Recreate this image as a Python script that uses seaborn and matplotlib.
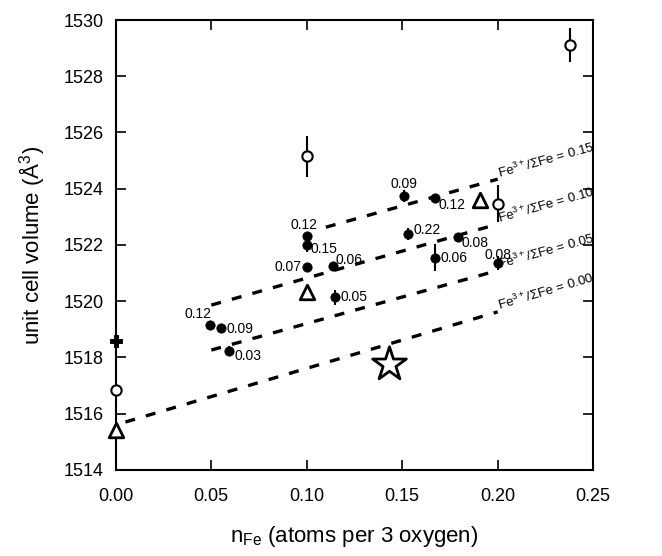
import numpy as np
import pandas as pd
import matplotlib
matplotlib.use("Agg")
import matplotlib.pyplot as plt
import seaborn as sns

# ---- data ----
# filled circles (samples) with labels and error bars
fill_x = [0.0494, 0.0552, 0.0592, 0.100, 0.100, 0.100, 0.1138, 0.115, 0.151, 0.153, 0.167, 0.167, 0.179, 0.200]
fill_y = [1519.15, 1519.05, 1518.24, 1521.22, 1522.30, 1522.00, 1521.25, 1520.13, 1523.74, 1522.38, 1523.67, 1521.55, 1522.27, 1521.35]
fill_err = [0.0, 0.15, 0.15, 0.0, 0.15, 0.25, 0.10, 0.27, 0.23, 0.22, 0.06, 0.47, 0.08, 0.25]
fill_lab = ["0.12", "0.09", "0.03", "0.07", "0.12", "0.15", "0.06", "0.05", "0.09", "0.22", "0.12", "0.06", "0.08", "0.08"]
# label offsets in points (dx, dy)
lab_dx = [-9, 4, 4, -4, -2, 3, 2, 4, 0, 4, 3, 4, 3, 0]
lab_dy = [8, -1, -4, 0, 8, -3, 4, 0, 9, 3, -5, 0, -4, 6]
lab_ha = ["center", "left", "left", "right", "center", "left", "left", "left", "center", "left", "left", "left", "left", "center"]

open_x = [0.0, 0.10, 0.20, 0.238]
open_y = [1516.84, 1525.15, 1523.46, 1529.10]
open_err = [0.0, 0.72, 0.66, 0.60]

tri_x = [0.0, 0.10, 0.1906]
tri_y = [1515.42, 1520.32, 1523.60]

plus_x = [0.0]
plus_y = [1518.58]

star_x = [0.1432]
star_y = [1517.75]

line_ratio = ["0.15", "0.10", "0.05", "0.00"]
line_x0 = [0.110, 0.050, 0.050, 0.005]
line_y0 = [1522.63, 1519.86, 1518.26, 1515.70]
line_x1 = [0.200, 0.200, 0.200, 0.200]
line_y1 = [1524.34, 1522.74, 1521.09, 1519.62]

x_ticks = [0.00, 0.05, 0.10, 0.15, 0.20, 0.25]
y_ticks = [1514, 1516, 1518, 1520, 1522, 1524, 1526, 1528, 1530]

# ---- style ----
sns.set_style("ticks")
plt.rcParams['font.family'] = ['Liberation Sans', 'DejaVu Sans']
plt.rcParams['mathtext.fontset'] = 'custom'
plt.rcParams['mathtext.rm'] = 'Liberation Sans'
plt.rcParams['mathtext.it'] = 'Liberation Sans:italic'
plt.rcParams['text.color'] = 'black'
plt.rcParams['axes.labelcolor'] = 'black'
plt.rcParams['xtick.color'] = 'black'
plt.rcParams['ytick.color'] = 'black'

fig = plt.figure(figsize=(6.62, 5.56), dpi=100)
ax = fig.add_axes([0.175, 0.155, 0.721, 0.809])
ax.set_xlim(0.0, 0.25)
ax.set_ylim(1514, 1530)

# dashed lines
for r, x0, y0, x1, y1 in zip(line_ratio, line_x0, line_y0, line_x1, line_y1):
    d = pd.DataFrame({"x": [x0, x1], "y": [y0, y1]})
    sns.lineplot(data=d, x="x", y="y", ax=ax, color="black", lw=2.4,
                 dashes=False, zorder=2).lines[-1].set_dashes((3.0, 3.4))

# error bars
for xs, ys, es in [(fill_x, fill_y, fill_err), (open_x, open_y, open_err)]:
    eb = ax.errorbar(xs, ys, yerr=es, fmt="none", ecolor="black", elinewidth=1.5, capsize=0, zorder=3)
    for c in eb.lines[2]:
        c.set_clip_on(False)

# markers
kw = dict(ax=ax, clip_on=False, zorder=4, legend=False)
sns.scatterplot(x=fill_x, y=fill_y, marker="o", s=45, color="black", edgecolor="black", **kw)
sns.scatterplot(x=open_x, y=open_y, marker="o", s=55, facecolor="white", edgecolor="black", linewidth=1.5, **kw)
sns.scatterplot(x=tri_x, y=tri_y, marker="^", s=110, facecolor="white", edgecolor="black", linewidth=2.0, **kw)
sns.scatterplot(x=plus_x, y=plus_y, marker="P", s=70, color="black", edgecolor="black", **kw)
sns.scatterplot(x=star_x, y=star_y, marker="*", s=650, facecolor="white", edgecolor="black", linewidth=2.0, **kw)

# sample labels
for x, y, t, dx, dy, ha in zip(fill_x, fill_y, fill_lab, lab_dx, lab_dy, lab_ha):
    ax.annotate(t, (x, y), xytext=(dx, dy), textcoords="offset points",
                ha=ha, va="center", fontsize=10, zorder=5)

# line labels
for r, x0, y0, x1, y1 in zip(line_ratio, line_x0, line_y0, line_x1, line_y1):
    p0 = ax.transData.transform((x0, y0))
    p1 = ax.transData.transform((x1, y1))
    ang = np.degrees(np.arctan2(p1[1] - p0[1], p1[0] - p0[0]))
    ax.annotate(r"Fe$^{3+}$/$\Sigma$Fe = " + r, (x1, y1), xytext=(2, -1),
                textcoords="offset points", rotation=ang, rotation_mode="anchor",
                ha="left", va="bottom", fontsize=9.5, zorder=5)

ax.set_xticks(x_ticks)
ax.set_xticklabels([f"{v:.2f}" for v in x_ticks])
ax.set_yticks(y_ticks)
ax.set_yticklabels([str(v) for v in y_ticks])
ax.tick_params(direction="in", top=True, right=True, length=7, width=1.2,
               labelsize=13, colors="black", pad=9)
ax.tick_params(axis="x", pad=13)
for s in ax.spines.values():
    s.set_linewidth(1.5)
    s.set_color("black")

ax.set_xlabel(r"n$_{\mathrm{Fe}}$ (atoms per 3 oxygen)", fontsize=16, labelpad=14)
ax.set_ylabel(r"unit cell volume ($\mathrm{\AA}^3$)", fontsize=16, labelpad=12)

fig.savefig("out.png", dpi=100)
